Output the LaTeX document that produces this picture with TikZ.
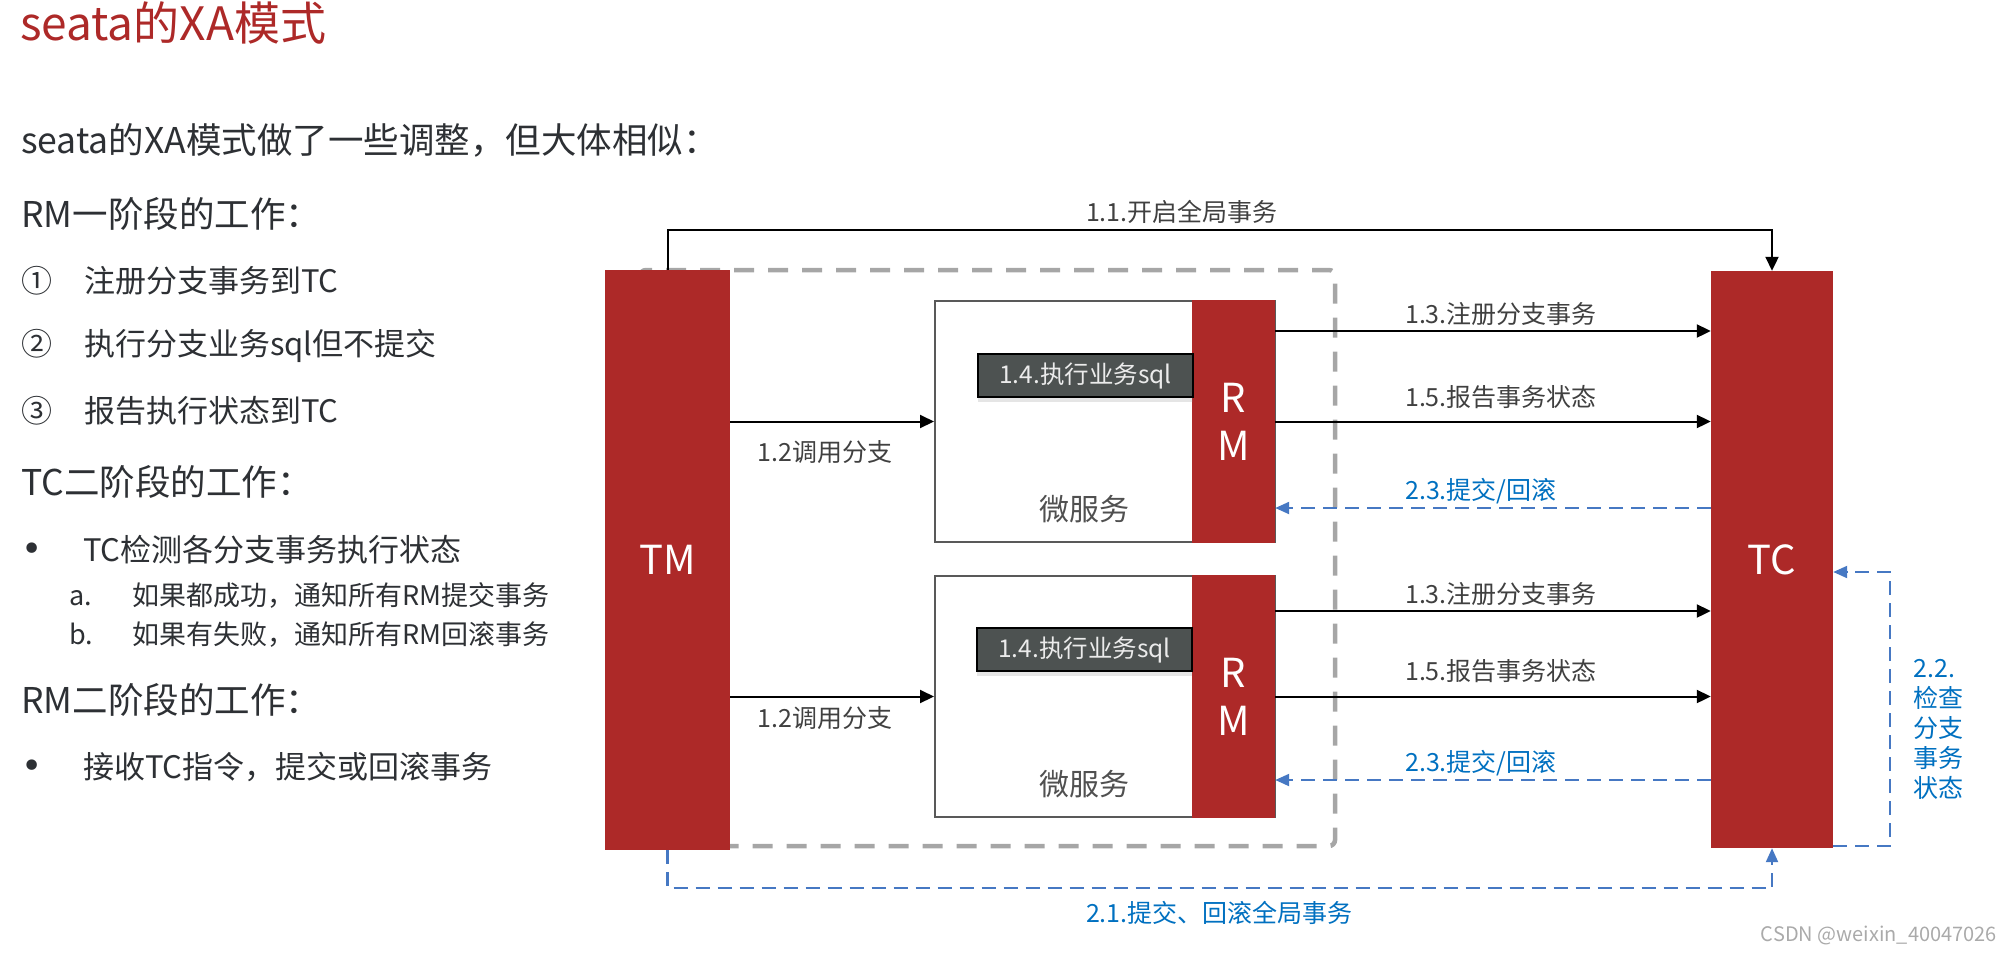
\documentclass[tikz,border=0pt]{standalone}
\usepackage{fontspec}
\setmainfont{Noto Sans CJK SC}
\newfontfamily\bulletfont{DejaVu Sans}
\usepackage{tikz}
\usetikzlibrary{arrows.meta,positioning,shadows}

\definecolor{xared}{RGB}{173,41,40}
\definecolor{txtdark}{RGB}{45,48,52}
\definecolor{lblgray}{RGB}{64,64,64}
\definecolor{svcgray}{RGB}{80,80,80}
\definecolor{boxgray}{RGB}{89,89,89}
\definecolor{sqlgray}{RGB}{77,82,81}
\definecolor{sqltext}{RGB}{235,235,235}
\definecolor{framegray}{RGB}{166,166,166}
\definecolor{blueline}{RGB}{70,120,195}
\definecolor{bluetext}{RGB}{0,112,192}
\definecolor{wmgray}{RGB}{170,170,170}

\newcommand{\dotmark}{\makebox[62pt][l]{\bulletfont\fontsize{36}{30}\selectfont •}}

\begin{document}
\begin{tikzpicture}[x=1pt,y=-1pt,
    every node/.style={inner sep=0pt},
    head/.style={anchor=west,text=txtdark,font=\fontsize{35.5}{42}\selectfont},
    item/.style={anchor=west,text=txtdark,font=\fontsize{31}{37}\selectfont},
    subitem/.style={anchor=west,text=txtdark,font=\fontsize{27}{32}\selectfont},
    bar/.style={fill=xared,text=white,font=\fontsize{40}{48}\selectfont},
    svcbox/.style={draw=boxgray,line width=2pt,fill=white},
    sqlbox/.style={draw=black,line width=2pt,fill=sqlgray,text=sqltext,
        font=\fontsize{24.5}{28}\selectfont,
        drop shadow={shadow xshift=0pt,shadow yshift=-5pt,opacity=0.2}},
    lbl/.style={text=lblgray,font=\fontsize{25}{30}\selectfont},
    bluelbl/.style={text=bluetext,font=\fontsize{25}{30}\selectfont},
    frame/.style={draw=framegray,line width=4.5pt,dash pattern=on 20pt off 14pt,rounded corners=6pt},
    call/.style={draw=black,line width=2pt,-{Triangle[length=14pt,width=13pt]}},
    reply/.style={draw=blueline,line width=2.2pt,dash pattern=on 14pt off 8pt,-{Triangle[length=14pt,width=12pt]}}]
    \useasboundingbox (0,0) rectangle (2012,954);

    % left side text
    \node[anchor=west,text=xared,font=\fontsize{46}{54}\selectfont] (title) at (20,23) {seata的XA模式};
    \node[head] (intro) at (21,140) {seata的XA模式做了一些调整，但大体相似：};
    \node[head] (rmone) at (21,214) {RM一阶段的工作：};
    \node[item] (stepa) at (21,281) {\makebox[63pt][l]{①}注册分支事务到TC};
    \node[item] (stepb) at (21,346) {\makebox[63pt][l]{②}执行分支业务sql但不提交};
    \node[item] (stepc) at (21,411) {\makebox[63pt][l]{③}报告执行状态到TC};
    \node[head] (tctwo) at (21,482) {TC二阶段的工作：};
    \node[item] (check) at (21,550) {\dotmark TC检测各分支事务执行状态};
    \node[subitem] (oka) at (69,595) {\makebox[63pt][l]{a.}如果都成功，通知所有RM提交事务};
    \node[subitem] (failb) at (69,635) {\makebox[63pt][l]{b.}如果有失败，通知所有RM回滚事务};
    \node[head] (rmtwo) at (21,700) {RM二阶段的工作：};
    \node[item] (recv) at (21,767) {\dotmark 接收TC指令，提交或回滚事务};

    % diagram
    \draw[frame] (640,270) rectangle (1335,846);
    \node[bar,minimum width=125pt,minimum height=580pt] (TM) at (667.5,560) {TM};
    \node[bar,minimum width=122pt,minimum height=577pt] (TC) at (1772,559.5) {TC};

    \node[svcbox,minimum width=340pt,minimum height=241pt] (svc1) at (1105,421.5) {};
    \node[bar,minimum width=83pt,minimum height=243pt,align=center] (rm1) at (1233.5,421.5) {R\\M};
    \node[sqlbox,minimum width=215pt,minimum height=43pt] (sql1) at (1085.5,375.5) {1.4.执行业务sql};
    \node[text=svcgray,font=\fontsize{30}{36}\selectfont] (ms1) at (1084,509) {微服务};

    \node[svcbox,minimum width=340pt,minimum height=241pt] (svc2) at (1105,696.5) {};
    \node[bar,minimum width=83pt,minimum height=243pt,align=center] (rm2) at (1233.5,696.5) {R\\M};
    \node[sqlbox,minimum width=215pt,minimum height=43pt] (sql2) at (1084.5,649.5) {1.4.执行业务sql};
    \node[text=svcgray,font=\fontsize{30}{36}\selectfont] (ms2) at (1084,784) {微服务};

    \draw[call] (TM.north) -- ++(0,-40) -| (TC.north)
        node[lbl,pos=0.189,anchor=south west,yshift=5pt] {1.1.开启全局事务};
    \draw[call] (TM.east |- svc1.west) -- (svc1.west)
        node[lbl,pos=0.13,anchor=north west,yshift=-18pt] {1.2调用分支};
    \draw[call] (TM.east |- svc2.west) -- (svc2.west)
        node[lbl,pos=0.13,anchor=north west,yshift=-9pt] {1.2调用分支};

    \draw[call] (rm1.east |- 0,331) -- (TC.west |- 0,331)
        node[lbl,pos=0.296,anchor=south west,yshift=4pt] {1.3.注册分支事务};
    \draw[call] (rm1.east) -- (rm1.east -| TC.west)
        node[lbl,pos=0.296,anchor=south west,yshift=12pt] {1.5.报告事务状态};
    \draw[reply] (TC.west |- 0,508) -- (rm1.east |- 0,508)
        node[bluelbl,pos=0.704,anchor=south west,yshift=3pt] {2.3.提交/回滚};

    \draw[call] (rm2.east |- 0,611) -- (TC.west |- 0,611)
        node[lbl,pos=0.296,anchor=south west,yshift=4pt] {1.3.注册分支事务};
    \draw[call] (rm2.east) -- (rm2.east -| TC.west)
        node[lbl,pos=0.296,anchor=south west,yshift=13pt] {1.5.报告事务状态};
    \draw[reply] (TC.west |- 0,780) -- (rm2.east |- 0,780)
        node[bluelbl,pos=0.704,anchor=south west,yshift=3pt] {2.3.提交/回滚};

    \draw[reply] (TM.south) -- ++(0,38) -| (TC.south)
        node[bluelbl,pos=0.189,anchor=north west,yshift=-12pt] {2.1.提交、回滚全局事务};
    \draw[reply] (TC.east |- 0,846) -- ++(57,0) |- (TC.east |- 0,572)
        node[bluelbl,pos=0.2135,anchor=west,xshift=22pt,align=left] {2.2.\\检查\\分支\\事务\\状态};

    \node[text=wmgray,font=\fontsize{20}{24}\selectfont,anchor=east] (wm) at (1997,935) {CSDN @weixin\_40047026};
\end{tikzpicture}
\end{document}
